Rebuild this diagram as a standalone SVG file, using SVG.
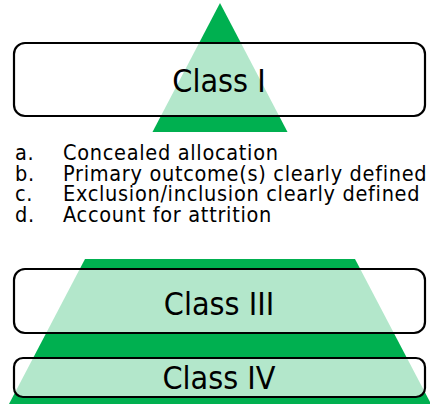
<svg xmlns="http://www.w3.org/2000/svg" width="430" height="404" viewBox="0 0 430 404">
  <style>
    .tier { fill: #00B050; }
    .band { fill: #ffffff; fill-opacity: 0.7; stroke: #000000; stroke-width: 2.2; }
    .label { font-family: "DejaVu Sans Condensed", "DejaVu Sans", sans-serif; font-stretch: condensed; font-size: 32px; fill: #000000; text-anchor: middle; }
    .item { font-family: "DejaVu Sans Condensed", "DejaVu Sans", sans-serif; font-stretch: condensed; font-size: 21.5px; letter-spacing: 0.7px; fill: #000000; }
  </style>

  <!-- pyramid: apex section and lower section share the same slopes -->
  <g id="pyramid">
    <polygon class="tier" points="220,3 287.5,132 152.5,132"/>
    <polygon class="tier" points="85,259 355,259 431,404 9,404"/>
  </g>

  <g id="class-1">
    <rect class="band" x="14" y="43" width="411" height="73" rx="11"/>
    <text class="label" x="219" y="92">Class I</text>
  </g>

  <g id="criteria">
    <text class="item" x="15" y="160">a.</text>
    <text class="item" x="63" y="160">Concealed allocation</text>
    <text class="item" x="15" y="180.5">b.</text>
    <text class="item" x="63" y="180.5">Primary outcome(s) clearly defined</text>
    <text class="item" x="15" y="201">c.</text>
    <text class="item" x="63" y="201">Exclusion/inclusion clearly defined</text>
    <text class="item" x="15" y="221.5">d.</text>
    <text class="item" x="63" y="221.5">Account for attrition</text>
  </g>

  <g id="class-3">
    <rect class="band" x="14" y="269" width="411" height="64" rx="11"/>
    <text class="label" x="219" y="315">Class III</text>
  </g>

  <g id="class-4">
    <rect class="band" x="14" y="358" width="411" height="39" rx="9"/>
    <text class="label" x="219" y="389">Class IV</text>
  </g>
</svg>
